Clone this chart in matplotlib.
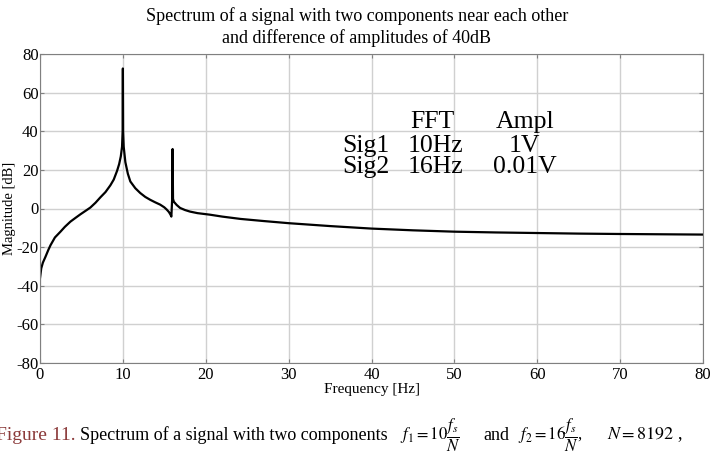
import matplotlib
matplotlib.use("Agg")
import matplotlib.pyplot as plt

plt.rcParams['font.family'] = ['Liberation Serif', 'DejaVu Serif']
plt.rcParams['mathtext.fontset'] = 'stix'
plt.rcParams['axes.unicode_minus'] = False

# spectrum (Hz, dB)
freq = [0.0, 0.15, 0.35, 0.66, 1.0, 1.27, 1.8, 2.47, 3.0, 3.67, 4.3, 4.88,
        5.5, 6.08, 6.7, 7.29, 7.9, 8.49, 8.9, 9.3, 9.55, 9.75, 9.9, 9.97,
        10.0, 10.03, 10.1, 10.3, 10.6, 10.9, 11.5, 12.1, 12.7, 13.3, 13.9,
        14.5, 15.0, 15.3, 15.55, 15.75, 15.85, 15.95, 16.0, 16.05, 16.15,
        16.5, 16.9, 17.5, 18.1, 19.0, 20.5, 22.0, 24.2, 27.0, 30.0, 35.0,
        40.0, 45.0, 50.0, 55.0, 60.0, 65.0, 70.0, 75.0, 80.0]
mag_db = [-36.0, -31.0, -28.0, -25.0, -21.5, -19.0, -15.0, -12.0, -9.5,
          -6.8, -4.8, -3.0, -1.2, 0.5, 3.0, 5.8, 8.5, 12.0, 15.0, 19.5,
          23.0, 27.0, 32.0, 40.0, 72.5, 40.0, 32.0, 24.0, 18.0, 14.0, 10.5,
          8.0, 6.0, 4.5, 3.2, 2.0, 0.6, -0.6, -1.8, -3.2, -4.2, 5.0, 30.8,
          5.0, 3.5, 1.8, 0.3, -0.8, -1.6, -2.4, -3.2, -4.2, -5.4, -6.5,
          -7.6, -9.1, -10.4, -11.3, -12.0, -12.4, -12.7, -13.0, -13.2,
          -13.35, -13.5]

xticks = [0, 10, 20, 30, 40, 50, 60, 70, 80]
yticks = [-80, -60, -40, -20, 0, 20, 40, 60, 80]

fig = plt.figure(figsize=(7.17, 4.54), dpi=100)
ax = fig.add_axes([40 / 717, 91 / 454, 663 / 717, 309 / 454])

ax.plot(freq, mag_db, color='black', lw=1.6)
ax.set_xlim(0, 80)
ax.set_ylim(-80, 80)
ax.set_xticks(xticks)
ax.set_yticks(yticks)
ax.grid(True, color='#d0d0d0', lw=1.0)
ax.set_axisbelow(True)
for s in ax.spines.values():
    s.set_color('#808080')
ax.tick_params(direction='in', length=3, color='#808080', labelsize=12,
               top=True, right=True, pad=1)
ax.tick_params(axis='x', pad=3)
ax.set_xlabel('Frequency [Hz]', fontsize=11, labelpad=0)
ax.set_ylabel('Magnitude [dB]', fontsize=10.5, labelpad=0)

# little table inside the plot
fs_t = 18.5
ax.text(47.3, 44.8, 'FFT', fontsize=fs_t, ha='center', va='center')
ax.text(58.5, 44.8, 'Ampl', fontsize=fs_t, ha='center', va='center')
ax.text(39.3, 32.4, 'Sig1', fontsize=fs_t, ha='center', va='center')
ax.text(47.7, 32.4, '10Hz', fontsize=fs_t, ha='center', va='center')
ax.text(58.4, 32.4, '1V', fontsize=fs_t, ha='center', va='center')
ax.text(39.3, 21.5, 'Sig2', fontsize=fs_t, ha='center', va='center')
ax.text(47.7, 21.5, '16Hz', fontsize=fs_t, ha='center', va='center')
ax.text(58.5, 21.5, '0.01V', fontsize=fs_t, ha='center', va='center')

fig.text(357 / 717, 1 - 16 / 454, 'Spectrum of a signal with two components near each other',
         fontsize=13, ha='center', va='center')
fig.text(357 / 717, 1 - 38 / 454, 'and difference of amplitudes of 40dB',
         fontsize=13, ha='center', va='center')

# caption below the chart
cy = 1 - 435 / 454
fig.text(-4 / 717, cy, 'Figure 11.', color='#8b3a3a', fontsize=14, va='center')
fig.text(80 / 717, cy, 'Spectrum of a signal with two components', fontsize=13, va='center')
fig.text(400 / 717, cy, r'$f_1=10\dfrac{f_s}{N}$', fontsize=12, va='center')
fig.text(483 / 717, cy, 'and', fontsize=13, va='center')
fig.text(518 / 717, cy, r'$f_2=16\dfrac{f_s}{N}$,', fontsize=12, va='center')
fig.text(607 / 717, cy, r'$N=8192$ ,', fontsize=13, va='center')

fig.savefig('out.png', dpi=100)
